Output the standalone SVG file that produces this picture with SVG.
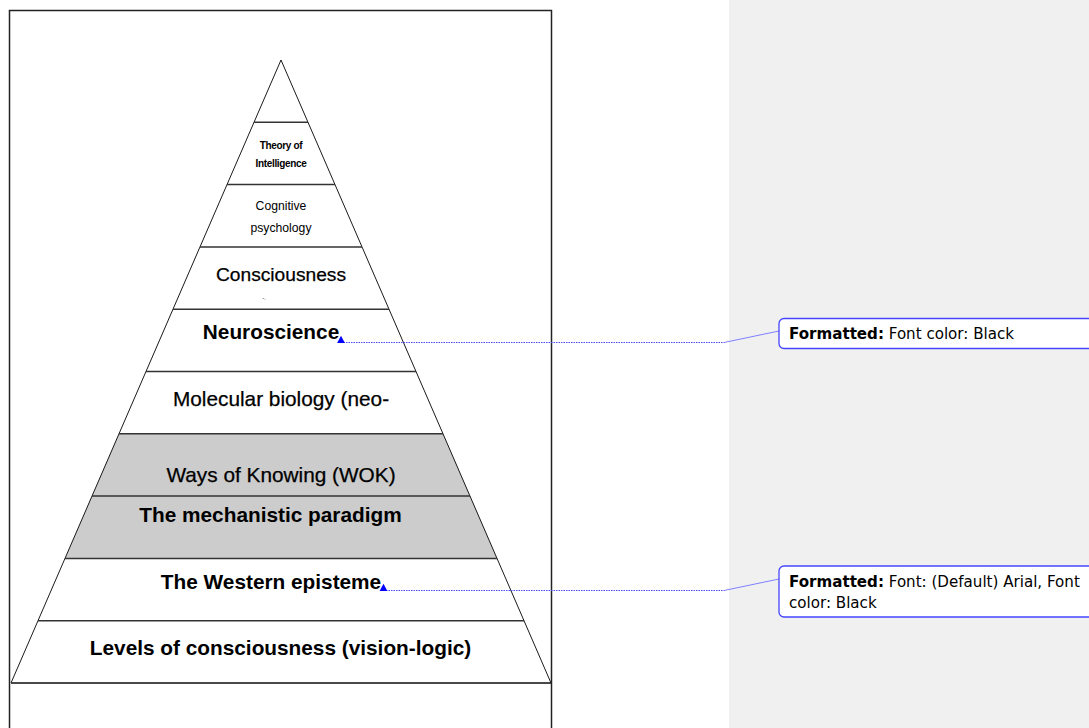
<svg xmlns="http://www.w3.org/2000/svg" width="1089" height="728" viewBox="0 0 1089 728">
  <style>
    .edge { fill: none; stroke: #000; stroke-width: 0.9; }
    .rule { stroke: #333; stroke-width: 1.5; }
    .band { fill: #cccccc; stroke: none; }
    .lbl { font-family: "Liberation Sans", Arial, sans-serif; text-anchor: middle; fill: #000; }
    .b { font-weight: bold; }
    .big { font-size: 20.8px; }
    .note { font-family: "DejaVu Sans", Verdana, sans-serif; font-size: 15.1px; fill: #000; }
    .box { fill: #fff; stroke: #4646ff; stroke-width: 1.3; }
    .lead { fill: none; stroke: #4a4aff; stroke-width: 1; stroke-dasharray: 1.5 1; }
    .lead2 { fill: none; stroke: #8080ff; stroke-width: 1; }
  </style>
  <defs>
    <marker id="anchor" viewBox="0 0 8 7" refX="4" refY="6.5" markerWidth="9" markerHeight="8" markerUnits="userSpaceOnUse" orient="0">
      <polygon points="0.5,7 4,0.5 7.5,7" fill="#0000ff"/>
    </marker>
  </defs>

  <!-- page and margin panel -->
  <rect x="0" y="0" width="1089" height="728" fill="#fff"/>
  <rect x="729" y="0" width="360" height="728" fill="#f0f0f0"/>
  <rect id="frame" x="9.5" y="10.5" width="542" height="740" fill="none" stroke="#222" stroke-width="1.5"/>

  <!-- pyramid -->
  <g id="pyramid">
    <polygon class="band" points="119,433.8 443,433.8 497,558.4 65,558.4"/>
    <polygon class="edge" points="281,60 551,683 11,683"/>
    <line class="rule" x1="254" y1="122.3" x2="308" y2="122.3"/>
    <line class="rule" x1="227" y1="184.6" x2="335" y2="184.6"/>
    <line class="rule" x1="200" y1="246.9" x2="362" y2="246.9"/>
    <line class="rule" x1="173" y1="309.2" x2="389" y2="309.2"/>
    <line class="rule" x1="146" y1="371.5" x2="416" y2="371.5"/>
    <line class="rule" x1="119" y1="433.8" x2="443" y2="433.8"/>
    <line class="rule" x1="92" y1="496.1" x2="470" y2="496.1"/>
    <line class="rule" x1="65" y1="558.4" x2="497" y2="558.4"/>
    <line class="rule" x1="38" y1="620.7" x2="524" y2="620.7"/>
    <line class="rule" x1="11" y1="683" x2="551" y2="683"/>
  </g>

  <g id="theory">
    <text class="lbl b" x="281" y="149" font-size="10" letter-spacing="-0.35">Theory of</text>
    <text class="lbl b" x="281" y="167" font-size="10" letter-spacing="-0.35">Intelligence</text>
  </g>
  <g id="cognitive">
    <text class="lbl" x="281" y="210" font-size="12.2" fill="#222">Cognitive</text>
    <text class="lbl" x="281" y="232" font-size="12.2" fill="#222">psychology</text>
  </g>
  <g id="consciousness">
    <text class="lbl" x="281" y="281" font-size="19.2" stroke="#000" stroke-width="0.25">Consciousness</text>
    <text class="lbl" x="264" y="300" font-size="6" fill="#555">-.</text>
  </g>
  <g id="neuroscience">
    <text class="lbl b big" x="271" y="339">Neuroscience</text>
  </g>
  <g id="molecular">
    <text class="lbl big" x="281" y="406" stroke="#000" stroke-width="0.25">Molecular biology (neo-</text>
  </g>
  <g id="wok">
    <text class="lbl big" x="281" y="482" stroke="#000" stroke-width="0.25">Ways of Knowing (WOK)</text>
  </g>
  <g id="mechanistic">
    <text class="lbl b big" x="270.5" y="522">The mechanistic paradigm</text>
  </g>
  <g id="western">
    <text class="lbl b big" x="271" y="589">The Western episteme</text>
  </g>
  <g id="levels">
    <text class="lbl b big" x="280.5" y="655">Levels of consciousness (vision-logic)</text>
  </g>

  <!-- comment leaders -->
  <g id="connectors">
    <polyline class="lead" points="341,342.5 724,342.5" marker-start="url(#anchor)"/>
    <line class="lead2" x1="724" y1="342.5" x2="779" y2="331"/>
    <polyline class="lead" points="383.5,590.5 724,590.5" marker-start="url(#anchor)"/>
    <line class="lead2" x1="724" y1="590.5" x2="779" y2="579"/>
  </g>

  <!-- comment balloons -->
  <g id="comment1">
    <rect class="box" x="779" y="318.5" width="330" height="30" rx="5"/>
    <text class="note" x="789" y="338.5"><tspan font-weight="bold">Formatted:</tspan> Font color: Black</text>
  </g>
  <g id="comment2">
    <rect class="box" x="779" y="566" width="330" height="51" rx="5"/>
    <text class="note" x="789" y="587"><tspan font-weight="bold">Formatted:</tspan> Font: (Default) Arial, Font</text>
    <text class="note" x="789" y="607.5">color: Black</text>
  </g>
</svg>
